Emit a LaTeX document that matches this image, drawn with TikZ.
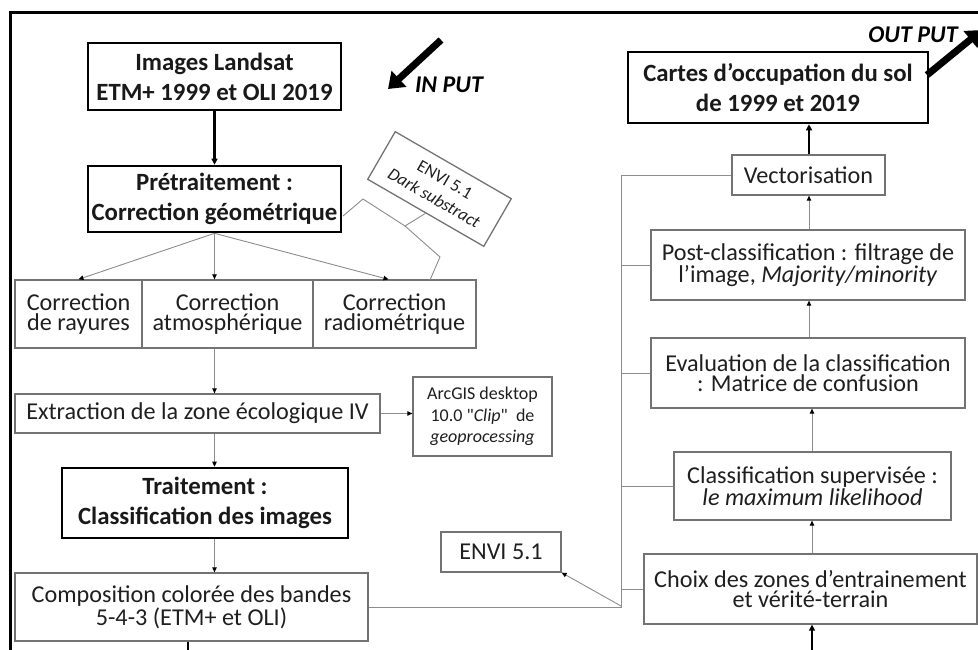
\documentclass[tikz,border=0pt]{standalone}
\usepackage{fontspec}
\setmainfont{Carlito}
\newfontfamily\plainq{Carlito}[Ligatures=TeXOff]
\usetikzlibrary{arrows.meta,calc}
\begin{document}
\begin{tikzpicture}[x=1pt,y=-1pt,
  thickbox/.style={draw=black, line width=2.6pt, align=center, inner sep=0pt,
    font=\bfseries\fontsize{24.8}{30}\selectfont, text=black!90},
  gbox/.style={draw=black!55, line width=1.3pt, align=center, inner sep=0pt,
    font=\fontsize{24.2}{20.5}\selectfont, text=black!88},
  smallbox/.style={gbox, font=\fontsize{18}{21.5}\selectfont},
  conn/.style={draw=black!45, line width=0.9pt},
  arr/.style={conn, -{Triangle[length=5pt,width=4.5pt,color=black]}},
  thickarr/.style={draw=black, line width=2.6pt, -{Triangle[length=6pt,width=6pt]}},
  bigarr/.style={draw=black, line width=7pt, -{Triangle[length=15pt,width=21pt]}},
  label/.style={font=\bfseries\itshape\fontsize{24}{28}\selectfont, inner sep=0pt}
]
\useasboundingbox (0,0) rectangle (978,650);
% frame
\draw[line width=3pt] (10,700) -- (10,13) -- (990,13);

% left column
\node[thickbox, minimum width=253pt, minimum height=67pt] (img) at (214.5,76.5) {Images Landsat\\ETM+ 1999 et OLI 2019};
\node[thickbox, minimum width=253pt, minimum height=66pt] (pre) at (214.5,199) {Prétraitement :\\Correction géométrique};
\node[gbox, minimum width=127pt, minimum height=68pt] (ray) at (78.5,314) {Correction\\de rayures};
\node[gbox, minimum width=171pt, minimum height=68pt] (atm) at (227.5,314) {Correction\\atmosphérique};
\node[gbox, minimum width=163pt, minimum height=68pt] (rad) at (394.5,314) {Correction\\radiométrique};
\node[gbox, minimum width=365pt, minimum height=39pt] (ext) at (197.5,413.5) {Extraction de la zone écologique IV};
\node[smallbox, minimum width=139pt, minimum height=79pt] (arc) at (482.5,416.5) {ArcGIS desktop\\10.0 {\plainq"}\textit{Clip}{\plainq"}\ \ de\\\textit{geoprocessing}};
\node[thickbox, minimum width=286pt, minimum height=70pt] (tra) at (205,503) {Traitement :\\Classification des images};
\node[gbox, minimum width=353pt, minimum height=68pt] (comp) at (191.5,607) {Composition colorée des bandes\\5-4-3 (ETM+ et OLI)};
\node[gbox, minimum width=120pt, minimum height=40pt] (envb) at (501,552) {ENVI 5.1};
\node[gbox, rotate=-30, minimum width=134pt, minimum height=55pt, font=\fontsize{17.5}{21.5}\selectfont] (enva) at (439.5,189) {ENVI 5.1\\\textit{Dark substract}};

% right column
\node[thickbox, minimum width=300pt, minimum height=71pt] (cartes) at (778,87.5) {Cartes d’occupation du sol\\de 1999 et 2019};
\node[gbox, minimum width=153pt, minimum height=40pt] (vec) at (808.5,175) {Vectorisation};
\node[gbox, minimum width=314pt, minimum height=70pt] (post) at (808,265) {Post-classification : filtrage de\\l’image, \textit{Majority/minority}};
\node[gbox, minimum width=314pt, minimum height=70pt] (eva) at (808,373) {Evaluation de la classification\\: Matrice de confusion};
\node[gbox, minimum width=277pt, minimum height=68pt] (cls) at (812.5,486) {Classification supervisée :\\\textit{le maximum likelihood}};
\node[gbox, minimum width=333pt, minimum height=70pt] (choix) at (810.5,589) {Choix des zones d’entrainement\\et vérité-terrain};

% input / output arrows
\coordinate (inA) at (441,40);
\coordinate (inB) at (388,89);
\draw[bigarr] (inA) -- (inB);
\node[label] (inlab) at (449,85) {IN PUT};
\coordinate (oA) at (927,75);
\coordinate (oB) at (982,30);
\draw[bigarr] (oA) -- (oB);
\node[label] (outlab) at (913,35) {OUT PUT};

% left connectors
\draw[thickarr] (img.south) -- (pre.south |- pre.north);
\draw[arr] (pre.south) -- (ray.north);
\draw[arr] (pre.south) -- (pre.south |- atm.north);
\draw[arr] (pre.south) -- ($(rad.north)+(-6,0)$);
\draw[arr] (pre.south |- atm.south) -- (pre.south |- ext.north);
\draw[arr] (ext.east) -- (ext.east -| arc.west);
\draw[arr] (pre.south |- ext.south) -- (pre.south |- tra.north);
\draw[arr] (pre.south |- tra.south) -- (pre.south |- comp.north);
\coordinate (cb) at (188,660);
\draw[draw=black, line width=2.6pt] (comp.south -| cb) -- (cb);

% brace to ENVI dark substract
\coordinate (b1) at (343,216);
\coordinate (b2) at (363,199);
\coordinate (b3) at (405,226);
\coordinate (b5) at (440,257);
\coordinate (b6) at (430,280);
\draw[conn] (b1) -- (b2) -- (b3) -- (enva.south);
\draw[conn] (b3) -- (b5) -- (b6);

% bus on right
\coordinate (bt) at (621,175);
\coordinate (bb) at (621,606);
\draw[conn] (bt) -- (bb);
\draw[conn] (vec.west) -- (vec.west -| bt);
\draw[conn] (post.west) -- (post.west -| bt);
\draw[conn] (eva.west) -- (eva.west -| bt);
\draw[conn] (cls.west) -- (cls.west -| bt);
\draw[conn] (choix.west) -- (choix.west -| bt);
\draw[conn] (comp.east) -- (comp.east -| bb) -- (bb);
\draw[arr] (bb) -- (envb.south east);

% right connectors
\draw[thickarr] (vec.north -| 809,0) -- (809,0 |- cartes.south);
\draw[arr] (post.north -| 809,0) -- (809,0 |- vec.south);
\draw[arr] (eva.north -| 809,0) -- (809,0 |- post.south);
\draw[arr] (cls.north -| 812,0) -- (812,0 |- eva.south);
\draw[arr] (choix.north -| 812,0) -- (812,0 |- cls.south);
\coordinate (chb) at (812,660);
\draw[thickarr] (chb) -- (chb |- choix.south);
\end{tikzpicture}
\end{document}
